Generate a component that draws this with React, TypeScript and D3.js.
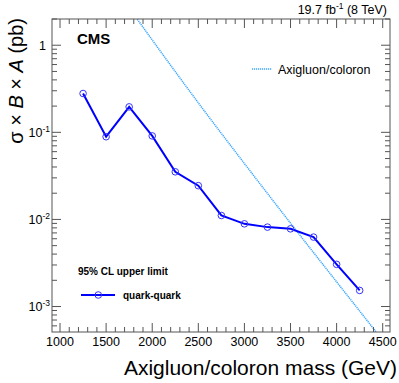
import React from 'react';
import * as d3 from 'd3';

const massPoints = [1250, 1500, 1750, 2000, 2250, 2500, 2750, 3000, 3250, 3500, 3750, 4000, 4250];
const qqLimit = [0.279, 0.089, 0.196, 0.091, 0.0352, 0.0244, 0.0111, 0.0089, 0.00816, 0.0078, 0.00627, 0.00305, 0.00153];
const axiMass = [1800, 2000, 2500, 3000, 3500, 4000, 4500];
const axiXsec = [2.26, 1.15, 0.218, 0.0438, 0.00906, 0.00192, 0.00041];
const xTickValues = [1000, 1500, 2000, 2500, 3000, 3500, 4000, 4500];
const xTickLabels = ['1000', '1500', '2000', '2500', '3000', '3500', '4000', '4500'];
const yTickValues = [1, 0.1, 0.01, 0.001];
const yTickBase = ['1', '10', '10', '10'];
const yTickExp = ['', '-1', '-2', '-3'];

const W = 399, H = 383;
const L = 52, R = 390, T = 19, B = 332;
const FONT = 'Liberation Sans, Arial, Helvetica, sans-serif';

export default function App() {
  const x = d3.scaleLinear().domain([913, 4579]).range([L, R]);
  const y = d3.scaleLog().domain([5.1e-4, 2]).range([B, T]);

  const minorX: number[] = [];
  for (let v = 1000; v <= 4500; v += 100) if (v % 500 !== 0) minorX.push(v);
  const minorY: number[] = [];
  for (let e = -4; e <= 0; e++) {
    for (let k = 2; k <= 9; k++) {
      const v = k * Math.pow(10, e);
      if (v >= 5.1e-4 && v <= 2) minorY.push(v);
    }
  }

  const qqData = massPoints.map((m, i) => [m, qqLimit[i]] as [number, number]);
  const axiData = axiMass.map((m, i) => [m, axiXsec[i]] as [number, number]);
  const line = d3.line<[number, number]>().x(d => x(d[0])).y(d => y(d[1]));
  const curve = d3.line<[number, number]>().x(d => x(d[0])).y(d => y(d[1])).curve(d3.curveMonotoneX);

  const major = 9, minor = 5;
  const axisColor = '#555';

  return (
    <svg width={W} height={H} style={{ position: 'absolute', left: 0, top: 0, background: '#fff' }} fontFamily={FONT}>
      <defs>
        <clipPath id="plotclip">
          <rect x={L} y={T} width={R - L} height={B - T} />
        </clipPath>
      </defs>
      <rect x={0} y={0} width={W} height={H} fill="#fff" />

      {/* axigluon theory */}
      <path d={curve(axiData) || ''} fill="none" stroke="#3aa6ff" strokeWidth={1.5} strokeDasharray="1.2,0.8" clipPath="url(#plotclip)" />

      {/* quark-quark limit */}
      <path d={line(qqData) || ''} fill="none" stroke="#0000ff" strokeWidth={2} />
      {qqData.map((d, i) => (
        <circle key={i} cx={x(d[0])} cy={y(d[1])} r={3.3} fill="none" stroke="#3333ff" strokeWidth={1} />
      ))}

      {/* frame */}
      <rect x={L} y={T} width={R - L} height={B - T} fill="none" stroke={axisColor} strokeWidth={1} />

      {/* x ticks */}
      {xTickValues.map((v, i) => (
        <g key={'xt' + i}>
          <line x1={x(v)} x2={x(v)} y1={B} y2={B - major} stroke={axisColor} />
          <line x1={x(v)} x2={x(v)} y1={T} y2={T + major} stroke={axisColor} />
          <text x={x(v)} y={346} fontSize={12.5} textAnchor="middle" fill="#000">{xTickLabels[i]}</text>
        </g>
      ))}
      {minorX.map((v, i) => (
        <g key={'xm' + i}>
          <line x1={x(v)} x2={x(v)} y1={B} y2={B - minor} stroke={axisColor} />
          <line x1={x(v)} x2={x(v)} y1={T} y2={T + minor} stroke={axisColor} />
        </g>
      ))}

      {/* y ticks */}
      {yTickValues.map((v, i) => (
        <g key={'yt' + i}>
          <line x1={L} x2={L + major} y1={y(v)} y2={y(v)} stroke={axisColor} />
          <line x1={R} x2={R - major} y1={y(v)} y2={y(v)} stroke={axisColor} />
          {yTickExp[i] === '' ? (
            <text x={46} y={y(v) + 4.5} fontSize={12.5} textAnchor="end" fill="#000">{yTickBase[i]}</text>
          ) : (
            <text x={50} y={y(v) + 4.5} fontSize={12.5} textAnchor="end" fill="#000">
              {yTickBase[i]}
              <tspan fontSize={8.5} dy={-5}>{yTickExp[i]}</tspan>
            </text>
          )}
        </g>
      ))}
      {minorY.map((v, i) => (
        <g key={'ym' + i}>
          <line x1={L} x2={L + minor} y1={y(v)} y2={y(v)} stroke={axisColor} />
          <line x1={R} x2={R - minor} y1={y(v)} y2={y(v)} stroke={axisColor} />
        </g>
      ))}

      {/* axis titles */}
      <text x={397} y={375} fontSize={21} textAnchor="end" fill="#000">Axigluon/coloron mass (GeV)</text>
      <text transform={`translate(23,18) rotate(-90)`} fontSize={20} textAnchor="end" fill="#000">
        σ × <tspan fontStyle="italic">B</tspan> × <tspan fontStyle="italic">A</tspan> (pb)
      </text>

      {/* header texts */}
      <text x={77} y={44} fontSize={15} fontWeight="bold" fill="#000">CMS</text>
      <text x={387} y={13.5} fontSize={12.5} textAnchor="end" fill="#000">
        19.7 fb<tspan fontSize={8.5} dy={-5}>-1</tspan><tspan dy={5}> (8 TeV)</tspan>
      </text>

      {/* legend: theory */}
      <line x1={252} x2={272} y1={69} y2={69} stroke="#3aa6ff" strokeWidth={1.5} strokeDasharray="1.2,0.8" />
      <text x={278} y={73.5} fontSize={12.5} fill="#000">Axigluon/coloron</text>

      {/* legend: limit */}
      <text x={78} y={274.5} fontSize={10} fontWeight="bold" fill="#000">95% CL upper limit</text>
      <line x1={81} x2={115} y1={295} y2={295} stroke="#0000ff" strokeWidth={2} />
      <circle cx={98.3} cy={295} r={3.3} fill="none" stroke="#3333ff" strokeWidth={1} />
      <text x={123} y={298.5} fontSize={10} fontWeight="bold" fill="#000">quark-quark</text>
    </svg>
  );
}
